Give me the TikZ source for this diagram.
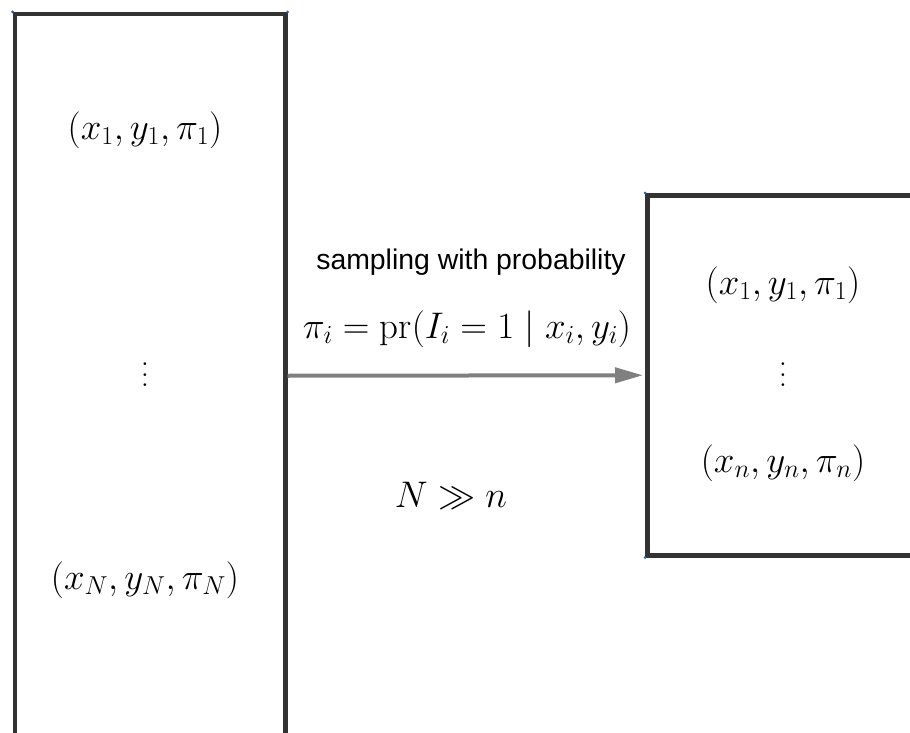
\RequirePackage{fix-cm}
\documentclass[tikz,border=0pt]{standalone}
\usepackage{fontspec}
\usepackage{graphicx}
\setsansfont{Liberation Sans}
\usetikzlibrary{arrows.meta,positioning}
\definecolor{ink}{HTML}{333333}
\definecolor{flow}{HTML}{808080}
\definecolor{handle}{HTML}{1E5FBF}
\tikzset{
  panel/.style={
    draw=ink,
    line width=4.5pt,
    fill=white,
    anchor=north west,
    inner sep=0pt
  },
  entry/.style={
    font=\fontsize{37}{43}\selectfont,
    text=black,
    inner sep=1pt
  },
  dots/.style={
    font=\normalsize,
    text=black,
    inner sep=1pt
  },
  caption/.style={
    font=\sffamily\fontsize{28.4}{34}\selectfont,
    text=black,
    inner sep=1pt
  },
  arrow/.style={
    -{Triangle[length=28pt,width=15pt]},
    draw=flow,
    line width=4pt,
    shorten >=2pt
  },
  corner/.style={
    fill=handle,
    circle,
    inner sep=0pt,
    minimum size=3pt
  }
}
\newcommand{\colvdots}{\scalebox{2.6}{$\vdots$}}

\begin{document}
\begin{tikzpicture}[x=1pt,y=-1pt]
\clip (0,0) rectangle (910,733);
\fill[white] (0,0) rectangle (910,733);

% ---------------------------------------------------------------------------
% Full population
% ---------------------------------------------------------------------------
\node[panel, minimum width=270.5pt, minimum height=723pt] (population) at (12.5,12) {};
\node[entry] (popfirst) at (145,130) {$(x_1, y_1, \pi_1)$};
\node[dots] (popdots) at (145,367) {\colvdots};
\node[entry] (poplast) at (145,580) {$(x_N, y_N, \pi_N)$};

% ---------------------------------------------------------------------------
% Drawn sample
% ---------------------------------------------------------------------------
\node[panel, minimum width=272pt, minimum height=360pt] (sample) at (645,193) {};
\node[entry] (samfirst) at (783,285) {$(x_1, y_1, \pi_1)$};
\node[dots] (samdots) at (783,367) {\colvdots};
\node[entry] (samlast) at (783,463) {$(x_n, y_n, \pi_n)$};

% Corner handles.
\node[corner] at (population.north west) {};
\node[corner] at (population.north east) {};
\node[corner] at (sample.north west) {};
\node[corner] at (sample.south west) {};

% ---------------------------------------------------------------------------
% Sampling step
% ---------------------------------------------------------------------------
\draw[arrow] (population.east) -- (sample.west);
\node[caption] (howto) at (471,262) {sampling with probability};
\node[entry] (rule) at (467,329) {$\pi_i = \mathrm{pr}(I_i = 1 \mid x_i, y_i)$};
\node[entry] (sizes) at (451,496) {$N \gg n$};

\end{tikzpicture}
\end{document}
